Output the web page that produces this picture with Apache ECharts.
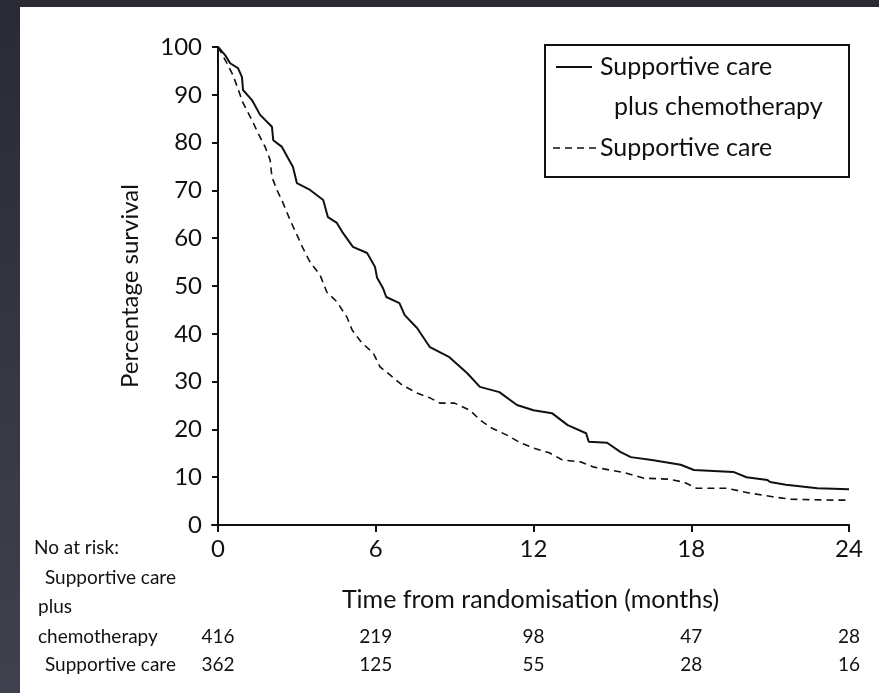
<!DOCTYPE html>
<html>
<head>
<meta charset="utf-8">
<script src="https://cdn.jsdelivr.net/npm/echarts@6/dist/echarts.min.js"></script>
<style>
    html, body { margin: 0; padding: 0; background: #2b2b35; }
    #main { width: 879px; height: 693px; }
</style>
</head>
<body>
<div id="main"></div>
<script>
    var chemoMonths = [0, 0.27, 0.46, 0.76, 0.91, 0.95, 1.29, 1.6, 2.05, 2.1, 2.43, 2.85, 3.0, 3.5, 4.0, 4.18, 4.52, 4.75, 5.13, 5.67, 5.97, 6.05, 6.27, 6.4, 6.9, 7.1, 7.57, 8.06, 8.8, 9.47, 9.96, 10.7, 11.37, 12.0, 12.7, 13.3, 14.0, 14.1, 14.8, 15.3, 15.7, 16.5, 17.6, 18.1, 19.6, 20.1, 20.9, 21.0, 21.6, 22.8, 24.0];
    var chemoSurv = [100, 98.3, 96.6, 95.6, 93.7, 91, 88.9, 85.8, 83.3, 80.5, 79.1, 74.9, 71.5, 70.1, 68, 64.4, 63.2, 61.1, 58.2, 56.9, 54, 51.7, 49.6, 47.7, 46.4, 43.9, 41.2, 37.2, 35.1, 31.8, 28.9, 27.8, 25.1, 24, 23.4, 20.9, 19.2, 17.4, 17.2, 15.3, 14.2, 13.6, 12.6, 11.5, 11.1, 10, 9.4, 9.0, 8.4, 7.7, 7.5];
    var supportMonths = [0, 0.3, 0.57, 0.95, 1.29, 1.52, 1.79, 1.98, 2.05, 2.24, 2.47, 2.74, 3.0, 3.23, 3.5, 3.88, 4.14, 4.52, 4.9, 5.1, 5.47, 5.9, 6.16, 6.54, 7.0, 7.57, 8.06, 8.44, 9.0, 9.58, 9.96, 10.4, 10.99, 11.5, 12.0, 12.6, 13.1, 13.8, 14.3, 14.9, 15.5, 16.2, 17.1, 17.7, 18.2, 19.35, 20.2, 21.1, 21.75, 23.5, 24];
    var supportSurv = [100, 97, 94.1, 88.3, 84.7, 82, 79.1, 76.4, 72.8, 70.1, 67.4, 63.8, 60.7, 57.9, 55, 52.3, 48.7, 46.7, 43.5, 40.8, 38.1, 36, 33.1, 31.4, 29.3, 27.6, 26.6, 25.5, 25.5, 24, 22, 20.3, 18.8, 17.2, 16.1, 15.1, 13.6, 13.2, 12.1, 11.5, 10.9, 9.8, 9.6, 9.0, 7.7, 7.7, 6.7, 5.9, 5.4, 5.2, 5.2];

    var xTicks = [0, 6, 12, 18, 24];
    var riskChemo = [416, 219, 98, 47, 28];
    var riskSupport = [362, 125, 55, 28, 16];

    var font = 'Lato';
    var ink = '#111';

    function pairs(xs, ys) {
        var out = [];
        for (var i = 0; i < xs.length; i++) out.push([xs[i], ys[i]]);
        return out;
    }

    var chart = echarts.init(document.getElementById('main'));

    var gridLeft = 212, gridTop = 47, gridRight = 849, gridBottom = 525;
    var xMin = -0.23, xMax = 24;

    // numbers at risk, placed under the ticks via the same x scale
    function riskText(vals, y) {
        return vals.map(function (v, i) {
            var px = gridLeft + (xTicks[i] - xMin) / (xMax - xMin) * (gridRight - gridLeft);
            return {
                type: 'text', x: px, y: y,
                style: { text: String(v), font: '19px ' + font, fill: ink, align: 'center', verticalAlign: 'middle' }
            };
        });
    }

    var graphics = [
        // dark frame
        { type: 'rect', shape: { x: 0, y: 0, width: 879, height: 7 }, style: { fill: '#2a2a34' }, z: 100 },
        { type: 'rect', shape: { x: 0, y: 0, width: 20, height: 693 },
          style: { fill: new echarts.graphic.LinearGradient(0, 0, 0, 1, [{ offset: 0, color: '#2a2a34' }, { offset: 1, color: '#3f424e' }]) }, z: 100 },
        // legend box
        { type: 'rect', shape: { x: 545, y: 45, width: 304, height: 132 }, style: { fill: '#fff', stroke: ink, lineWidth: 2 }, z: 10 },
        { type: 'line', shape: { x1: 556, y1: 67, x2: 592, y2: 67 }, style: { stroke: ink, lineWidth: 2 }, z: 11 },
        { type: 'line', shape: { x1: 553, y1: 148, x2: 596, y2: 148 }, style: { stroke: ink, lineWidth: 1.6, lineDash: [7, 5] }, z: 11 },
        { type: 'text', x: 600, y: 67, style: { text: 'Supportive care', font: '25px ' + font, fill: ink, verticalAlign: 'middle' }, z: 11 },
        { type: 'text', x: 614, y: 107, style: { text: 'plus chemotherapy', font: '25px ' + font, fill: ink, verticalAlign: 'middle' }, z: 11 },
        { type: 'text', x: 600, y: 148, style: { text: 'Supportive care', font: '25px ' + font, fill: ink, verticalAlign: 'middle' }, z: 11 },
        // at-risk table labels
        { type: 'text', x: 34, y: 548, style: { text: 'No at risk:', font: '19px ' + font, fill: ink, verticalAlign: 'middle' } },
        { type: 'text', x: 45, y: 578, style: { text: 'Supportive care', font: '19px ' + font, fill: ink, verticalAlign: 'middle' } },
        { type: 'text', x: 38, y: 607, style: { text: 'plus', font: '19px ' + font, fill: ink, verticalAlign: 'middle' } },
        { type: 'text', x: 38, y: 637, style: { text: 'chemotherapy', font: '19px ' + font, fill: ink, verticalAlign: 'middle' } },
        { type: 'text', x: 45, y: 665, style: { text: 'Supportive care', font: '19px ' + font, fill: ink, verticalAlign: 'middle' } }
    ].concat(riskText(riskChemo, 637)).concat(riskText(riskSupport, 665));

    var option = {
        backgroundColor: '#fff',
        animation: false,
        grid: { left: gridLeft, top: gridTop, right: 879 - gridRight, bottom: 693 - gridBottom },
        xAxis: {
            type: 'value', min: xMin, max: xMax,
            name: 'Time from randomisation (months)',
            nameLocation: 'middle', nameGap: 62,
            nameTextStyle: { fontFamily: font, fontSize: 25, color: ink },
            splitLine: { show: false },
            axisLine: { lineStyle: { color: ink, width: 2 } },
            axisTick: { customValues: xTicks, length: 7, lineStyle: { color: ink, width: 2 } },
            axisLabel: { customValues: xTicks, margin: 12, fontFamily: font, fontSize: 24, color: ink }
        },
        yAxis: {
            type: 'value', min: 0, max: 100, interval: 10,
            name: 'Percentage survival',
            nameLocation: 'middle', nameGap: 70,
            nameTextStyle: { fontFamily: font, fontSize: 24, color: ink },
            splitLine: { show: false },
            axisLine: { lineStyle: { color: ink, width: 2 } },
            axisTick: { length: 6, lineStyle: { color: ink, width: 2 } },
            axisLabel: { margin: 10, fontFamily: font, fontSize: 24, color: ink }
        },
        series: [
            {
                name: 'Supportive care plus chemotherapy', type: 'line', data: pairs(chemoMonths, chemoSurv),
                showSymbol: false, lineStyle: { color: ink, width: 2 }
            },
            {
                name: 'Supportive care', type: 'line', data: pairs(supportMonths, supportSurv),
                showSymbol: false, lineStyle: { color: ink, width: 1.6, type: [7, 5] }
            }
        ],
        graphic: graphics
    };
    chart.setOption(option);
</script>
</body>
</html>
